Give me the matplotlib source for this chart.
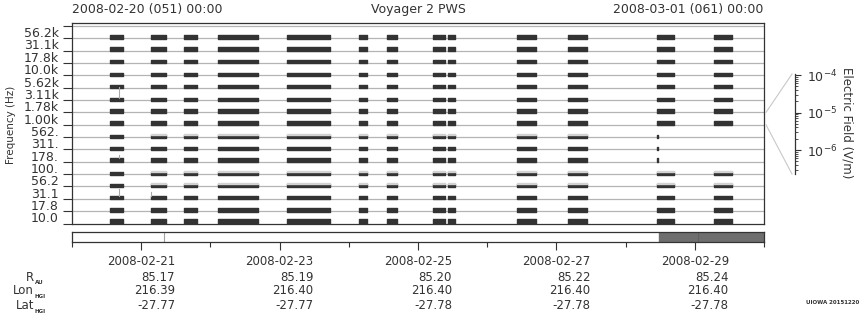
import matplotlib
matplotlib.use("Agg")
import matplotlib.pyplot as plt
from matplotlib.lines import Line2D
from matplotlib.transforms import blended_transform_factory
import matplotlib.ticker as mticker

freq_labels = ["56.2k", "31.1k", "17.8k", "10.0k", "5.62k", "3.11k", "1.78k", "1.00k",
               "562.", "311.", "178.", "100.", "56.2", "31.1", "17.8", "10.0"]

# observing periods, days after 2008-02-20 00:00
obs_start = [0.549, 1.142, 1.618, 2.110, 3.107, 4.147, 4.552, 5.212, 5.434, 6.431, 7.168, 8.454, 9.277]
obs_end = [0.737, 1.358, 1.806, 2.688, 3.728, 4.263, 4.697, 5.395, 5.535, 6.705, 7.442, 8.699, 9.538]

# trace spread in each channel (fraction of a channel row)
trace_level = [0.30, 0.30, 0.30, 0.24, 0.24, 0.24, 0.32, 0.32, 0.22, 0.25, 0.32, 0.24, 0.24, 0.30, 0.32, 0.40]

# channels with noisy grey fringe above the trace, and the periods where it shows
fringe_rows = [8, 11, 12]
fringe_from = 1

# channel / period pairs with no data (end cut short)
gap_rows = [8, 9, 10, 8, 9, 10]
gap_period = [11, 11, 11, 12, 12, 12]
gap_end = [8.47, 8.47, 8.47, None, None, None]

# single bursts
spike_day = [0.683, 0.683, 0.683, 1.14]
spike_row = [5, 10, 13, 13]
spike_len = [0.80, 0.20, 0.50, 0.25]

# spacecraft state strip
strip_line = [1.335]
strip_dark_from = 8.487
strip_dark_line = [9.04]

tick_day = [1, 3, 5, 7, 9]
tick_date = ["2008-02-21", "2008-02-23", "2008-02-25", "2008-02-27", "2008-02-29"]
r_au = ["85.17", "85.19", "85.20", "85.22", "85.24"]
lon_hgi = ["216.39", "216.40", "216.40", "216.40", "216.40"]
lat_hgi = ["-27.77", "-27.77", "-27.78", "-27.78", "-27.78"]

W, H = 860, 320
dark = "#333333"
txt = "#333333"
grey = "#b4b4b4"

def box(l, t, r, b):
    return [l / W, 1 - b / H, (r - l) / W, (b - t) / H]

fig = plt.figure(figsize=(W / 100, H / 100), dpi=100)

ax = fig.add_axes(box(72, 23, 764, 223.5))
nrow = len(freq_labels)
ax.set_xlim(0, 10)
ax.set_ylim(0, nrow + 0.24)
for k in range(1, nrow + 1):
    ax.axhline(k, color=grey, lw=0.9, zorder=1)

for r in range(nrow):
    base = nrow - 1 - r
    h = trace_level[r]
    for i, (s, e) in enumerate(zip(obs_start, obs_end)):
        cut = False
        for gr, gp, ge in zip(gap_rows, gap_period, gap_end):
            if gr == r and gp == i:
                cut = True
                if ge is not None:
                    ax.broken_barh([(s, ge - s)], (base - 0.04, h), color=dark, zorder=2)
        if cut:
            continue
        ax.broken_barh([(s, e - s)], (base - 0.04, h), color=dark, zorder=2)
        if r in fringe_rows and i >= fringe_from:
            ax.broken_barh([(s, e - s)], (base - 0.04 + h, 0.07), color="#d2d2d2", zorder=2)

for d, r, ln in zip(spike_day, spike_row, spike_len):
    base = nrow - 1 - r + trace_level[r]
    ax.plot([d, d], [base - 0.05, base + ln], color="#a8a8a8", lw=0.8, zorder=2)

ax.set_xticks([])
ax.set_yticks(range(nrow + 1))
ax.set_yticklabels([])
ax.set_yticks([nrow - 1 - r + 0.5 for r in range(nrow)], minor=True)
ax.set_yticklabels(freq_labels, minor=True)
ax.tick_params(axis="y", which="major", length=6.5, width=0.8, color=dark)
ax.tick_params(axis="y", which="minor", length=0, pad=9.6, labelsize=9, labelcolor=txt)
for sp in ax.spines.values():
    sp.set_color(dark)
    sp.set_linewidth(0.9)

# colour scale
cax = fig.add_axes(box(794, 74, 795, 174))
cax.set_yscale("log")
cax.set_ylim(10 ** -6.64, 10 ** -3.97)
cax.set_xticks([])
for s in ["left", "top", "bottom"]:
    cax.spines[s].set_visible(False)
cax.spines["right"].set_color(dark)
cax.spines["right"].set_linewidth(0.9)
cax.yaxis.tick_right()
cax.yaxis.set_major_locator(mticker.LogLocator(base=10))
cax.yaxis.set_minor_locator(mticker.LogLocator(base=10, subs=range(2, 10)))
cax.yaxis.set_minor_formatter(mticker.NullFormatter())
cax.tick_params(axis="y", which="major", length=4.3, width=0.8, color=dark, pad=4, labelsize=9, labelcolor=txt)
cax.tick_params(axis="y", which="minor", length=2.2, width=0.6, color=dark)
fig.text(847 / W, 1 - 123 / H, "Electric Field (V/m)", rotation=270, ha="center", va="center",
         fontsize=8.5, color=txt)

y_top = 1 - (223.5 - (nrow - 7) * 12.34) / H
y_bot = 1 - (223.5 - (nrow - 8) * 12.34) / H
fig.add_artist(Line2D([766 / W, 792 / W], [y_top, 1 - 74 / H], color="#c8c8c8", lw=0.8))
fig.add_artist(Line2D([766 / W, 792 / W], [y_bot, 1 - 174 / H], color="#c8c8c8", lw=0.8))

# state strip and time axis
ax2 = fig.add_axes(box(72, 231.7, 764, 242.3))
ax2.set_xlim(0, 10)
ax2.set_ylim(0, 1)
ax2.axvspan(strip_dark_from, 10, color="#6e6e6e")
for d in strip_line:
    ax2.axvline(d, color="#a0a0a0", lw=0.8)
for d in strip_dark_line:
    ax2.axvline(d, color="#5e5e5e", lw=0.7)
ax2.set_yticks([])
ax2.set_xticks(tick_day)
ax2.set_xticklabels([])
ax2.set_xticks(range(0, 11), minor=True)
ax2.tick_params(axis="x", which="major", length=5.8, width=0.8, color=dark)
ax2.tick_params(axis="x", which="minor", length=3.6, width=0.8, color=dark)
for sp in ax2.spines.values():
    sp.set_color(dark)
    sp.set_linewidth(0.9)

tr = blended_transform_factory(ax2.transData, fig.transFigure)
for d, lab, a, b, c in zip(tick_day, tick_date, r_au, lon_hgi, lat_hgi):
    fig.text(d, 1 - 261.7 / H, lab, transform=tr, ha="center", va="center", fontsize=8.5, color=txt)
    for v, yy in zip([a, b, c], [277.3, 291.0, 305.7]):
        fig.text(d + 0.49, 1 - yy / H, v, transform=tr, ha="right", va="center", fontsize=8.5, color=txt)

for name, sub, yy in zip(["R", "Lon", "Lat"], ["AU", "HGI", "HGI"], [277.3, 291.0, 305.7]):
    fig.text(34 / W, 1 - yy / H, name, ha="right", va="center", fontsize=8.5, color=txt)
    fig.text(34.5 / W, 1 - (yy + 5.5) / H, sub, ha="left", va="center", fontsize=4, weight="bold", color=txt)

fig.text(72 / W, 1 - 9 / H, "2008-02-20 (051) 00:00", ha="left", va="center", fontsize=9, color=txt)
fig.text(763 / W, 1 - 9 / H, "2008-03-01 (061) 00:00", ha="right", va="center", fontsize=9, color=txt)
fig.text(418 / W, 1 - 10 / H, "Voyager 2 PWS", ha="center", va="center", fontsize=9, color=txt)
fig.text(11 / W, 1 - 125 / H, "Frequency (Hz)", rotation=90, ha="center", va="center", fontsize=7.5, color=txt)
fig.text(859 / W, 1 - 302 / H, "UIOWA 20151220", ha="right", va="center", fontsize=4, weight="bold", color=txt)

fig.savefig("out.png", dpi=100)
